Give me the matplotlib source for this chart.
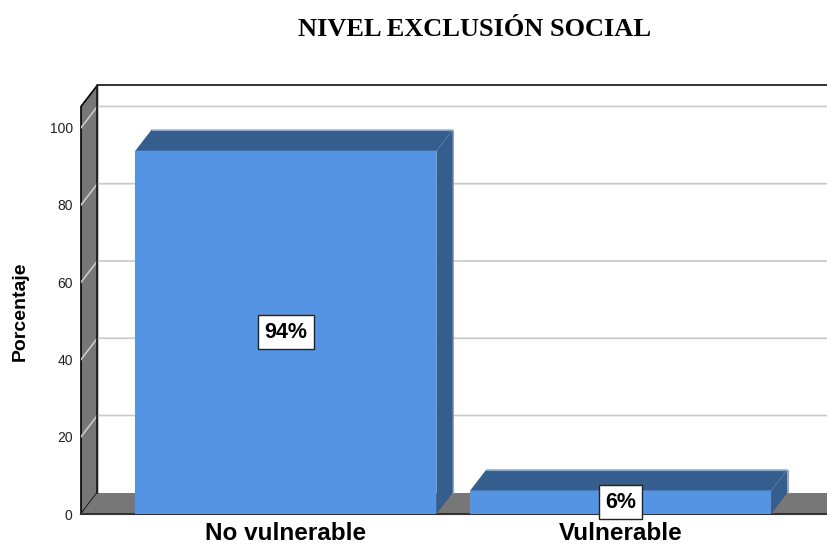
import numpy as np
import matplotlib
matplotlib.use('Agg')
import matplotlib.pyplot as plt

## data
categories = ['No vulnerable', 'Vulnerable']
percent = [94, 6]
labels = ['94%', '6%']
yticks = [0, 20, 40, 60, 80, 100]

## 3d look (in data units)
depth_x = 0.049
depth_y = 5.5
bar_w = 0.9
wall_top = 105.5
xmin, xmax = -0.612, 1.62

front = '#5494e3'
dark = '#355e8f'
wallc = '#777777'
gridc = '#c9c9c9'

plt.rcParams['font.family'] = ['Liberation Sans', 'DejaVu Sans']

fig = plt.figure(figsize=(8.28, 5.46), dpi=100)
ax = fig.add_axes([81/828, 32/546, 747/828, 428/546])
ax.set_xlim(xmin, xmax)
ax.set_ylim(0, 110.8)
for s in ax.spines.values():
    s.set_visible(False)

## left wall + floor
ax.fill([xmin, xmin, xmin+depth_x, xmin+depth_x],
        [0, wall_top, wall_top+depth_y, depth_y],
        color=wallc, ec='black', lw=1.2, zorder=1, clip_on=False)
ax.fill([xmin, xmax+depth_x, xmax+depth_x, xmin+depth_x],
        [0, 0, depth_y, depth_y],
        color=wallc, ec='none', zorder=1)
ax.plot([xmin, xmax+depth_x], [0, 0], color='#333333', lw=1.5, zorder=2, clip_on=False)
ax.plot([xmin+depth_x, xmin+depth_x, xmax+depth_x], [depth_y, wall_top+depth_y, wall_top+depth_y],
        color='#222222', lw=1.3, zorder=2, clip_on=False)

## gridlines (slanted on the wall, flat on the back)
for v in yticks[1:]:
    ax.plot([xmin, xmin+depth_x, xmax+depth_x], [v, v+depth_y, v+depth_y],
            color=gridc, lw=1.2, zorder=1.5)

## bars
x = np.arange(len(categories))
for xi, v, lab in zip(x, percent, labels):
    l, r = xi - bar_w/2, xi + bar_w/2
    ax.fill([l, r, r, l], [0, 0, v, v], color=front, ec='none', zorder=3)
    ax.fill([l, r, r+depth_x, l+depth_x], [v, v, v+depth_y, v+depth_y],
            color=dark, ec='none', zorder=3)
    ax.fill([r, r+depth_x, r+depth_x, r], [0, depth_y, v+depth_y, v],
            color=dark, ec='none', zorder=3)
    ax.plot([l+depth_x, r+depth_x, r+depth_x], [v+depth_y, v+depth_y, depth_y],
            color='#9aa6b5', lw=0.8, zorder=3.5)
    ax.text(xi, v/2, lab, ha='center', va='center', fontsize=15.5, fontweight='bold',
            zorder=5, bbox=dict(boxstyle='square,pad=0.3', fc='white', ec='#222222', lw=1))

ax.set_yticks(yticks)
ax.tick_params(axis='y', length=0, pad=6, labelsize=10, labelcolor='#222222')
ax.set_xticks(x)
ax.set_xticklabels(categories, fontsize=17.5, fontweight='bold')
ax.tick_params(axis='x', length=0, pad=6)

ax.set_ylabel('Porcentaje', fontsize=14, fontweight='bold')
ax.yaxis.set_label_coords(-0.07, 0.474)

fig.text(475/828, 1 - 30/546, 'NIVEL EXCLUSIÓN SOCIAL', ha='center', va='center',
         fontsize=19, fontweight='bold', family=['Liberation Serif', 'DejaVu Serif'])

fig.savefig('out.png', dpi=100)
